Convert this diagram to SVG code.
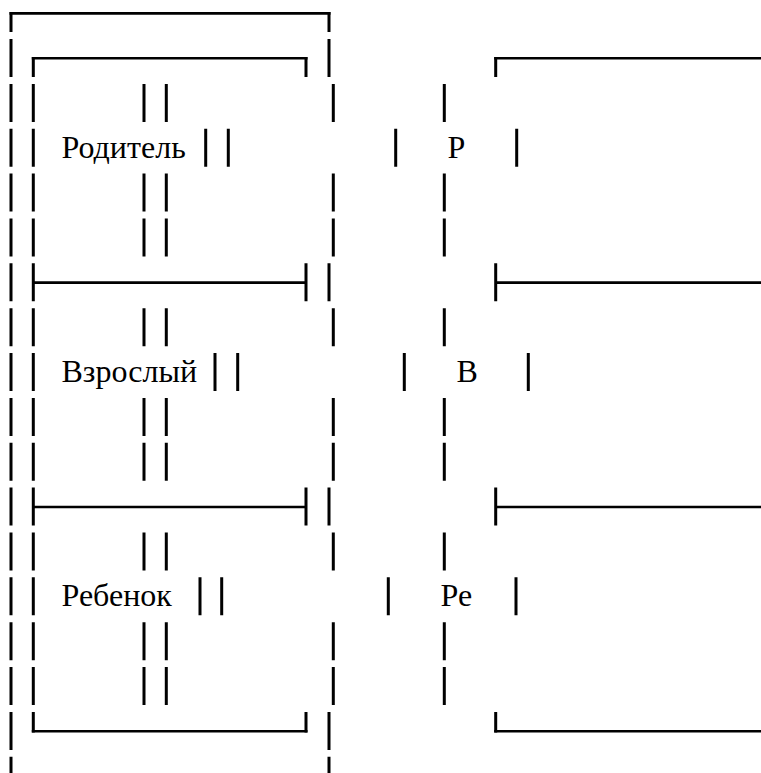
<svg xmlns="http://www.w3.org/2000/svg" width="761" height="773" viewBox="0 0 761 773">
<style>
.v{stroke:#000;stroke-width:3;fill:none}
.h{stroke:#000;stroke-width:2.6;fill:none}
text{font-size:32px;fill:#000}
</style>
<rect width="761" height="773" fill="#fff"/>
<g id="outer-frame">
<path class="h" d="M9.5 13.4H330.5"/>
<path class="v" d="M11 12.1V32.1M11 39V77M11 83.9V121.9M11 128.7V166.7M11 173.6V211.6M11 218.4V256.4M11 263.3V301.3M11 308.2V346.2M11 353V391M11 397.9V435.9M11 442.7V480.7M11 487.6V525.6M11 532.5V570.5M11 577.3V615.3M11 622.2V660.2M11 667V705M11 711.9V749.9M11 756.8V794.8"/>
<path class="v" d="M329 12.1V32.1M329 39V77M329 263.3V301.3M329 487.6V525.6M329 711.9V749.9M329 756.8V794.8"/>
<path class="v" d="M333.3 83.9V121.9M333.3 173.6V211.6M333.3 218.4V256.4M333.3 308.2V346.2M333.3 397.9V435.9M333.3 442.7V480.7M333.3 532.5V570.5M333.3 622.2V660.2M333.3 667V705"/>
</g>
<g id="inner-table">
<path class="h" d="M31.8 58.3H307.5M33.3 282.6H306M33.3 507H306M31.8 731.2H307.5"/>
<path class="v" d="M33.3 57V77M33.3 83.9V121.9M33.3 128.7V166.7M33.3 173.6V211.6M33.3 218.4V256.4M33.3 263.3V301.3M33.3 308.2V346.2M33.3 353V391M33.3 397.9V435.9M33.3 442.7V480.7M33.3 487.6V525.6M33.3 532.5V570.5M33.3 577.3V615.3M33.3 622.2V660.2M33.3 667V705M33.3 711.9V732.5"/>
<path class="v" d="M306 57V77M306 263.3V301.3M306 487.6V525.6M306 711.9V732.5"/>
<path class="v" d="M144 83.9V121.9M144 173.6V211.6M144 218.4V256.4M144 308.2V346.2M144 397.9V435.9M144 442.7V480.7M144 532.5V570.5M144 622.2V660.2M144 667V705"/>
<path class="v" d="M166.3 83.9V121.9M166.3 173.6V211.6M166.3 218.4V256.4M166.3 308.2V346.2M166.3 397.9V435.9M166.3 442.7V480.7M166.3 532.5V570.5M166.3 622.2V660.2M166.3 667V705"/>
</g>
<g id="node-parent">
<text font-family="Liberation Serif, serif" x="61.5" y="158">Родитель</text>
<path class="v" d="M205.7 128.7V166.7M228.3 128.7V166.7"/>
</g>
<g id="node-adult">
<text font-family="Liberation Serif, serif" x="61.5" y="382">Взрослый</text>
<path class="v" d="M215 353V391M237.7 353V391"/>
</g>
<g id="node-child">
<text font-family="Liberation Serif, serif" x="61.5" y="606">Ребенок</text>
<path class="v" d="M200 577.3V615.3M221.7 577.3V615.3"/>
</g>
<g id="right-column">
<path class="v" d="M444.3 83.9V121.9M444.3 173.6V211.6M444.3 218.4V256.4M444.3 308.2V346.2M444.3 397.9V435.9M444.3 442.7V480.7M444.3 532.5V570.5M444.3 622.2V660.2M444.3 667V705"/>
</g>
<g id="node-p">
<path class="v" d="M395.7 128.7V166.7M516.7 128.7V166.7"/>
<text font-family="Liberation Serif, serif" x="447.5" y="158">Р</text>
</g>
<g id="node-v">
<path class="v" d="M404.3 353V391M528.3 353V391"/>
<text font-family="Liberation Serif, serif" x="456.5" y="382">В</text>
</g>
<g id="node-pe">
<path class="v" d="M388.3 577.3V615.3M516 577.3V615.3"/>
<text font-family="Liberation Serif, serif" x="440.5" y="606">Ре</text>
</g>
<g id="right-box">
<path class="h" d="M494.2 58.3H761M495.7 282.6H761M495.7 507H761M494.2 731.2H761"/>
<path class="v" d="M495.7 57V77M495.7 263.3V301.3M495.7 487.6V525.6M495.7 711.9V732.5"/>
</g>
<g id="connectors"></g>
</svg>
